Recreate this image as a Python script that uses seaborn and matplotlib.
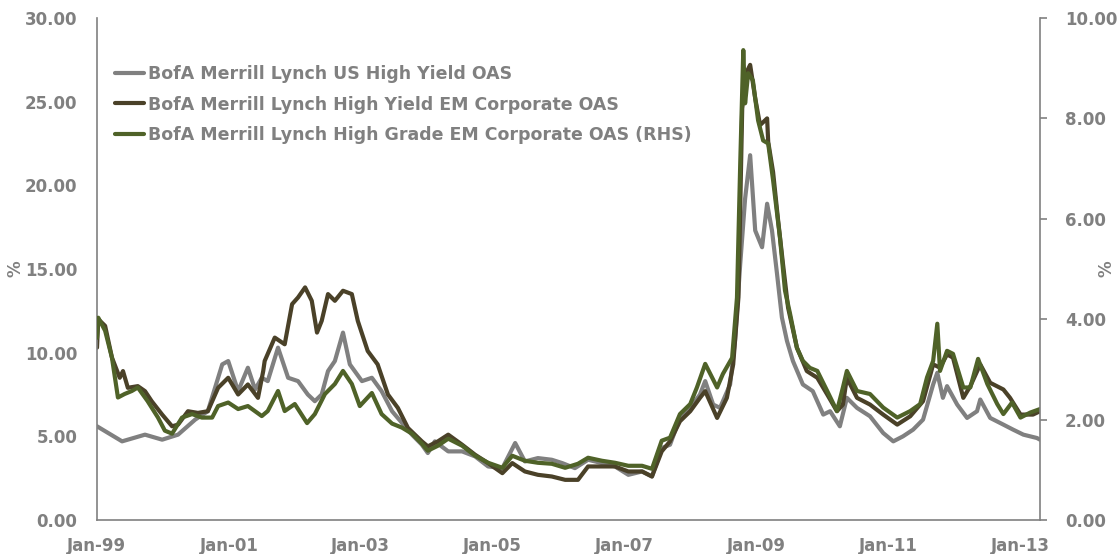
import pandas as pd
import numpy as np
import matplotlib
matplotlib.use('Agg')
import matplotlib.pyplot as plt
import matplotlib.dates as mdates
from matplotlib.ticker import FormatStrFormatter
import seaborn as sns

# 数据
us_hy_dates = ['1999-01-01', '1999-05-20', '1999-09-24', '1999-12-28', '2000-03-25', '2000-06-28',
               '2000-09-06', '2000-11-25', '2000-12-28', '2001-02-21', '2001-04-16', '2001-05-26',
               '2001-07-02', '2001-08-04', '2001-09-30', '2001-11-25', '2002-01-19', '2002-03-14',
               '2002-04-22', '2002-05-30', '2002-07-04', '2002-08-11', '2002-09-25', '2002-11-02',
               '2003-01-08', '2003-03-04', '2003-04-27', '2003-06-24', '2003-08-18', '2003-10-12',
               '2003-12-06', '2004-01-08', '2004-02-16', '2004-04-30', '2004-07-16', '2004-09-26',
               '2004-12-07', '2005-02-24', '2005-05-06', '2005-06-29', '2005-09-09', '2005-11-25',
               '2006-01-22', '2006-04-02', '2006-06-14', '2006-08-30', '2006-11-10', '2007-01-23',
               '2007-04-09', '2007-06-03', '2007-07-27', '2007-09-11', '2007-11-05', '2008-01-01',
               '2008-02-24', '2008-03-24', '2008-05-07', '2008-06-14', '2008-08-09', '2008-09-05',
               '2008-10-04', '2008-10-31', '2008-11-28', '2008-12-26', '2009-02-02', '2009-03-02',
               '2009-03-29', '2009-04-26', '2009-05-23', '2009-06-20', '2009-07-23', '2009-09-16',
               '2009-11-10', '2010-01-07', '2010-02-14', '2010-04-09', '2010-05-18', '2010-07-13',
               '2010-09-23', '2010-12-05', '2011-01-30', '2011-03-25', '2011-05-20', '2011-07-14',
               '2011-09-08', '2011-10-01', '2011-11-01', '2011-11-24', '2012-01-19', '2012-03-14',
               '2012-05-08', '2012-05-26', '2012-07-20', '2012-10-01', '2012-11-24', '2013-01-20',
               '2013-04-05', '2013-04-22']
us_hy = [5.6, 4.7, 5.1, 4.8, 5.1, 6.0,
         6.5, 9.3, 9.5, 7.7, 9.1, 7.8,
         8.5, 8.3, 10.3, 8.5, 8.3, 7.5,
         7.1, 7.5, 8.9, 9.5, 11.2, 9.3,
         8.3, 8.5, 7.7, 6.5, 5.8, 5.1,
         4.5, 4.0, 4.7, 4.1, 4.1, 3.8,
         3.2, 3.1, 4.6, 3.5, 3.7, 3.6,
         3.4, 3.1, 3.6, 3.4, 3.2, 2.7,
         2.9, 2.6, 4.3, 4.5, 6.1, 6.7,
         7.5, 8.3, 6.9, 6.7, 8.1, 10.7,
         15.3, 19.2, 21.8, 17.3, 16.3, 18.9,
         17.3, 14.7, 12.1, 10.7, 9.5, 8.1,
         7.7, 6.3, 6.5, 5.6, 7.3, 6.7,
         6.2, 5.2, 4.7, 5.0, 5.4, 6.0,
         8.1, 8.8, 7.3, 8.0, 6.9, 6.1,
         6.5, 7.2, 6.1, 5.7, 5.4, 5.1,
         4.9, 4.8]

em_hy_dates = ['1999-01-01', '1999-01-08', '1999-02-15', '1999-03-25', '1999-05-07', '1999-05-25',
               '1999-06-21', '1999-08-15', '1999-09-24', '1999-10-31', '1999-12-28', '2000-02-21',
               '2000-03-25', '2000-05-19', '2000-07-13', '2000-09-06', '2000-11-02', '2000-12-28',
               '2001-02-21', '2001-04-16', '2001-06-11', '2001-07-10', '2001-07-18', '2001-09-12',
               '2001-11-06', '2001-12-17', '2002-01-19', '2002-02-27', '2002-04-05', '2002-05-04',
               '2002-05-30', '2002-07-04', '2002-08-11', '2002-09-25', '2002-11-13', '2002-12-16',
               '2003-02-09', '2003-04-05', '2003-06-01', '2003-07-26', '2003-09-20', '2003-12-06',
               '2004-01-08', '2004-03-04', '2004-04-30', '2004-07-16', '2004-09-26', '2004-12-07',
               '2005-02-24', '2005-04-20', '2005-06-29', '2005-09-09', '2005-11-25', '2006-02-07',
               '2006-04-19', '2006-06-14', '2006-08-30', '2006-11-10', '2007-01-23', '2007-04-09',
               '2007-06-03', '2007-07-27', '2007-09-11', '2007-11-05', '2008-01-01', '2008-02-24',
               '2008-03-24', '2008-05-29', '2008-07-22', '2008-08-26', '2008-09-24', '2008-10-15',
               '2008-11-10', '2008-11-28', '2008-12-26', '2009-01-22', '2009-03-02', '2009-03-08',
               '2009-04-04', '2009-05-02', '2009-05-29', '2009-06-26', '2009-08-14', '2009-10-08',
               '2009-12-05', '2010-01-29', '2010-03-24', '2010-04-26', '2010-05-18', '2010-07-13',
               '2010-09-23', '2010-12-05', '2011-02-21', '2011-05-04', '2011-07-14', '2011-09-08',
               '2011-10-16', '2011-11-24', '2011-12-27', '2012-02-22', '2012-04-01', '2012-05-26',
               '2012-07-20', '2012-10-01', '2012-11-07', '2013-01-04', '2013-03-14', '2013-04-22']
em_hy = [10.3, 12.0, 11.6, 9.7, 8.5, 8.9,
         7.9, 8.0, 7.7, 7.1, 6.3, 5.6,
         5.7, 6.5, 6.4, 6.5, 7.9, 8.5,
         7.5, 8.1, 7.3, 8.9, 9.5, 10.9,
         10.5, 12.9, 13.3, 13.9, 13.1, 11.2,
         11.9, 13.5, 13.1, 13.7, 13.5, 11.9,
         10.1, 9.3, 7.5, 6.7, 5.5, 4.7,
         4.4, 4.7, 5.1, 4.5, 3.9, 3.4,
         2.8, 3.4, 2.9, 2.7, 2.6, 2.4,
         2.4, 3.2, 3.2, 3.2, 2.9, 2.9,
         2.6, 4.1, 4.7, 5.9, 6.5, 7.3,
         7.7, 6.1, 7.3, 9.3, 13.3, 24.6,
         26.8, 27.2, 25.2, 23.6, 24.0, 22.6,
         20.8, 17.9, 15.3, 12.7, 10.3, 8.9,
         8.5, 7.5, 6.5, 6.9, 8.5, 7.3,
         6.9, 6.3, 5.7, 6.2, 7.1, 9.3,
         9.1, 9.9, 9.7, 7.3, 8.0, 9.3,
         8.2, 7.8, 7.3, 6.3, 6.3, 6.5]

em_hg_dates = ['1999-01-01', '1999-01-08', '1999-02-15', '1999-03-25', '1999-04-27', '1999-06-03',
               '1999-07-13', '1999-08-15', '1999-10-08', '1999-12-05', '2000-01-12', '2000-02-21',
               '2000-04-16', '2000-06-11', '2000-08-04', '2000-09-30', '2000-11-02', '2000-12-28',
               '2001-02-21', '2001-04-16', '2001-07-02', '2001-08-04', '2001-09-30', '2001-11-06',
               '2002-01-01', '2002-03-10', '2002-04-22', '2002-06-17', '2002-08-11', '2002-09-25',
               '2002-11-13', '2002-12-27', '2003-03-04', '2003-04-27', '2003-06-24', '2003-08-18',
               '2003-10-12', '2003-12-06', '2004-01-08', '2004-03-04', '2004-04-30', '2004-07-16',
               '2004-09-26', '2004-12-07', '2005-02-24', '2005-04-20', '2005-06-29', '2005-09-09',
               '2005-11-25', '2006-02-07', '2006-04-19', '2006-06-14', '2006-08-30', '2006-11-10',
               '2007-01-23', '2007-04-09', '2007-06-03', '2007-07-27', '2007-09-11', '2007-11-05',
               '2008-01-01', '2008-02-07', '2008-03-24', '2008-05-29', '2008-06-30', '2008-08-20',
               '2008-09-16', '2008-10-04', '2008-10-21', '2008-10-31', '2008-11-17', '2008-12-13',
               '2009-01-11', '2009-02-08', '2009-03-08', '2009-04-04', '2009-05-12', '2009-06-09',
               '2009-07-07', '2009-08-14', '2009-09-16', '2009-10-25', '2009-12-05', '2010-01-29',
               '2010-03-24', '2010-04-26', '2010-05-18', '2010-07-13', '2010-09-23', '2010-12-05',
               '2011-02-21', '2011-05-04', '2011-06-28', '2011-08-05', '2011-09-08', '2011-10-01',
               '2011-10-16', '2011-11-24', '2011-12-27', '2012-02-22', '2012-04-01', '2012-05-14',
               '2012-07-04', '2012-08-28', '2012-10-01', '2012-11-18', '2013-01-04', '2013-02-27',
               '2013-04-22']
em_hg = [3.63, 4.03, 3.77, 3.23, 2.44, 2.51,
         2.57, 2.64, 2.37, 2.04, 1.78, 1.72,
         2.04, 2.11, 2.04, 2.04, 2.27, 2.34,
         2.21, 2.27, 2.07, 2.17, 2.57, 2.17,
         2.31, 1.93, 2.11, 2.51, 2.71, 2.97,
         2.71, 2.27, 2.53, 2.11, 1.92, 1.84,
         1.72, 1.52, 1.38, 1.48, 1.62, 1.48,
         1.28, 1.14, 1.04, 1.28, 1.18, 1.14,
         1.12, 1.04, 1.12, 1.24, 1.18, 1.14,
         1.08, 1.08, 1.02, 1.58, 1.64, 2.11,
         2.31, 2.64, 3.11, 2.64, 2.91, 3.23,
         4.43, 7.10, 9.36, 8.30, 8.90, 8.76,
         7.96, 7.56, 7.50, 6.77, 5.63, 4.57,
         4.11, 3.43, 3.17, 3.03, 2.97, 2.57,
         2.17, 2.64, 2.97, 2.57, 2.51, 2.24,
         2.04, 2.17, 2.31, 2.84, 3.17, 3.91,
         2.97, 3.37, 3.31, 2.64, 2.64, 3.21,
         2.71, 2.31, 2.11, 2.34, 2.04, 2.14,
         2.21]

labels = ['BofA Merrill Lynch US High Yield OAS',
          'BofA Merrill Lynch High Yield EM Corporate OAS',
          'BofA Merrill Lynch High Grade EM Corporate OAS (RHS)']
tick_dates = ['1999-01-01', '2001-01-01', '2003-01-01', '2005-01-01',
              '2007-01-01', '2009-01-01', '2011-01-01', '2013-01-01']

sns.set_style('white')
plt.rcParams['font.family'] = ['DejaVu Sans']
plt.rcParams['font.weight'] = 'bold'

grey = '#808080'
brown = '#4a4128'
green = '#4f6228'
fs = 12

fig = plt.figure(figsize=(11.2, 5.54), dpi=100)
ax = fig.add_axes([97 / 1120, 1 - 520 / 554, (1040 - 97) / 1120, (520 - 18) / 554])
ax2 = ax.twinx()

sns.lineplot(x=pd.to_datetime(us_hy_dates), y=us_hy, ax=ax, color=grey, linewidth=3, label=labels[0])
sns.lineplot(x=pd.to_datetime(em_hy_dates), y=em_hy, ax=ax, color=brown, linewidth=3, label=labels[1])
sns.lineplot(x=pd.to_datetime(em_hg_dates), y=em_hg, ax=ax2, color=green, linewidth=3, label=labels[2])

# 坐标轴
ax.set_xlim(pd.Timestamp('1999-01-01'), pd.Timestamp('2013-04-22'))
ax.set_ylim(0, 30)
ax2.set_ylim(0, 10)
ax.set_yticks(np.arange(0, 31, 5))
ax2.set_yticks(np.arange(0, 11, 2))
ax.yaxis.set_major_formatter(FormatStrFormatter('%.2f'))
ax2.yaxis.set_major_formatter(FormatStrFormatter('%.2f'))
ax.set_xticks(pd.to_datetime(tick_dates))
ax.xaxis.set_major_formatter(mdates.DateFormatter('%b-%y'))

for a in (ax, ax2):
    a.grid(False)
    for s in a.spines.values():
        s.set_color(grey)
        s.set_linewidth(1.2)
    a.spines['top'].set_visible(False)
ax.spines['right'].set_visible(False)
ax2.spines['left'].set_visible(False)
ax2.spines['bottom'].set_visible(False)

ax.tick_params(axis='y', length=0, pad=14, labelsize=fs, labelcolor=grey)
ax.tick_params(axis='x', length=0, pad=12, labelsize=fs, labelcolor=grey)
ax2.tick_params(axis='y', direction='out', length=5, width=1.2, color=grey,
                pad=13, labelsize=fs, labelcolor=grey)
for lab in ax.get_xticklabels() + ax.get_yticklabels() + ax2.get_yticklabels():
    lab.set_fontweight('bold')

ax.set_xlabel('')
ax.set_ylabel('%', fontsize=fs, color=grey, fontweight='bold')
ax2.set_ylabel('%', fontsize=fs, color=grey, fontweight='bold', rotation=90)
ax.yaxis.set_label_coords(-0.077, 0.5)
ax2.yaxis.set_label_coords(1.0615, 0.5)

# 图例
h1, l1 = ax.get_legend_handles_labels()
h2, l2 = ax2.get_legend_handles_labels()
if ax2.get_legend() is not None:
    ax2.get_legend().remove()
leg = ax.legend(h1 + h2, l1 + l2, loc='upper left', frameon=False,
                bbox_to_anchor=(115 / 1120, 1 - 65 / 554), bbox_transform=fig.transFigure,
                borderpad=0, borderaxespad=0, handlelength=1.65, handletextpad=0.25,
                labelspacing=0.72, prop={'size': 12.5, 'weight': 'bold'})
for t in leg.get_texts():
    t.set_color(grey)

fig.savefig('out.png', dpi=100)
